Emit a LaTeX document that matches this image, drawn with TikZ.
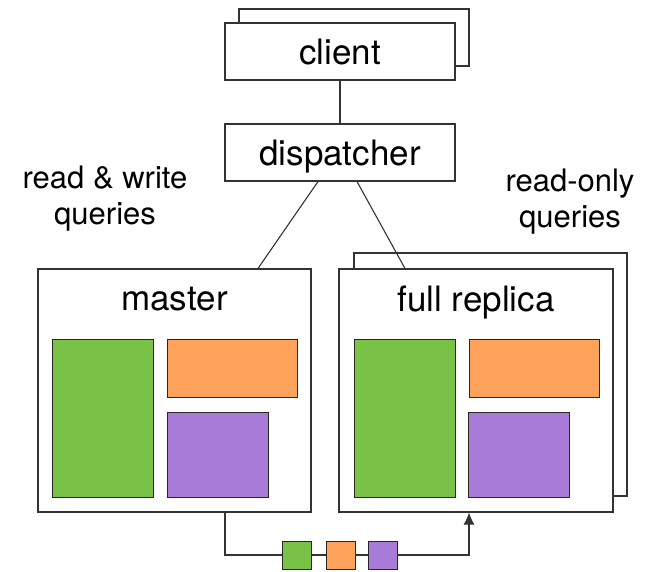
\documentclass[tikz,border=0pt]{standalone}
\usepackage{fontspec}
\setmainfont{TeX Gyre Heros}
\usetikzlibrary{arrows.meta}
\definecolor{shardgreen}{RGB}{122,193,72}
\definecolor{shardorange}{RGB}{255,163,92}
\definecolor{shardpurple}{RGB}{168,123,217}

\begin{document}
\begin{tikzpicture}[
    x=1pt, y=-1pt,
    every node/.style={font=\fontsize{35}{42}\selectfont},
    box/.style={rectangle, minimum width=230pt, minimum height=57pt,
                text height=25pt, text depth=0pt, draw=black!80, fill=white, line width=1.1pt},
    server/.style={rectangle, minimum width=273pt, minimum height=243pt,
                   draw=black!80, fill=white, line width=1.1pt},
    title/.style={anchor=base},
    query/.style={align=center, font=\fontsize{31}{36}\selectfont},
    shard/.style={rectangle, inner sep=0pt, draw=black!85, line width=0.9pt},
    bigshard/.style={shard, minimum width=101pt, minimum height=158pt, fill=shardgreen},
    wideshard/.style={shard, minimum width=130pt, minimum height=58pt, fill=shardorange},
    squareshard/.style={shard, minimum width=101pt, minimum height=85pt, fill=shardpurple},
    tinyshard/.style={shard, minimum width=29pt, minimum height=28pt},
    link/.style={draw=black!80, line width=1.1pt},
    arrow/.style={link, -{Latex[length=12pt, width=11pt]}}
]
\useasboundingbox (0,0) rectangle (651,571);

% Client and dispatcher
\node (clientback) [box] at (354,37.5) {};
\node (client) [box] at (340,51.5) {client};
\node (dispatcher) [box] at (340,152.5) {dispatcher};

% Query labels
\node (rwlabel) [query] at (105,199) {read \& write\\queries};
\node (rolabel) [query] at (570,202) {read-only\\queries};

% Servers
\node (master) [server] at (174.5,390.5) {};
\node (replicaback) [server] at (490.5,374.5) {};
\node (replica) [server, minimum width=274pt] at (476,390.5) {};
\node (mastertitle) [title] at (174.5,310) {master};
\node (replicatitle) [title] at (476,311) {full replica};

% Shards
\node (mgreen) [bigshard] at (102.5,418) {};
\node (morange) [wideshard] at (232,368) {};
\node (mpurple) [squareshard] at (217.5,454.5) {};
\node (rgreen) [bigshard] at (404.5,418) {};
\node (rorange) [wideshard] at (534,368) {};
\node (rpurple) [squareshard] at (519,454.5) {};

% Replication stream
\node (tinygreen) [tinyshard, fill=shardgreen] at (297,555) {};
\node (tinyorange) [tinyshard, fill=shardorange] at (340.5,555) {};
\node (tinypurple) [tinyshard, fill=shardpurple] at (382.5,555) {};

% Connections
\draw [link] (client) -- (dispatcher);
\draw [link] ([xshift=-22pt]dispatcher.south) -- ([xshift=83.5pt]master.north);
\draw [link] ([xshift=17pt]dispatcher.south) -- ([xshift=-71pt]replica.north);
\draw [link] ([xshift=50.5pt]master.south) |- (tinygreen.west);
\draw [link] (tinygreen) -- (tinyorange);
\draw [link] (tinyorange) -- (tinypurple);
\draw [arrow] (tinypurple.east) -| ([xshift=-7pt]replica.south);

\end{tikzpicture}
\end{document}
